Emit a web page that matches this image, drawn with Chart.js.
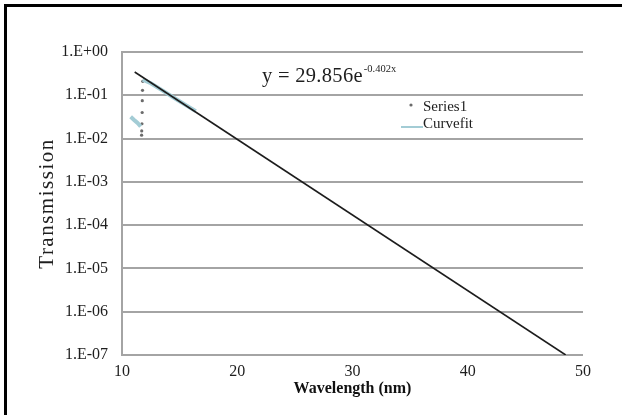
<!DOCTYPE html>
<html>
<head>
<meta charset="utf-8">
<script src="https://cdn.jsdelivr.net/npm/chart.js@4.4.1/dist/chart.umd.min.js"></script>
<style>
    html, body { margin: 0; padding: 0; background: #fff; }
    canvas { display: block; }
</style>
</head>
<body>
<canvas id="chart" width="622" height="415"></canvas>
<script>
// eixos
const xTicks = [10, 20, 30, 40, 50];
const yTickValues = [1, 1e-1, 1e-2, 1e-3, 1e-4, 1e-5, 1e-6, 1e-7];
const yTickLabels = ['1.E+00', '1.E-01', '1.E-02', '1.E-03', '1.E-04', '1.E-05', '1.E-06', '1.E-07'];

// Series1 (pontos medidos)
const series1X = [11.8, 11.78, 11.76, 11.75, 11.73, 11.71, 11.7];
const series1Y = [0.21, 0.13, 0.075, 0.04, 0.022, 0.015, 0.012];

// Curvefit (dois trechos, null separa)
const curveX = [10.75, 11.05, 11.35, 11.62, 11.7, 11.8, 12.5, 13.5, 14.5, 15.5, 16.4];
const curveY = [0.032, 0.027, 0.023, 0.019, null, 0.23, 0.19, 0.13, 0.088, 0.06, 0.043];

// linha de tendência exponencial (preta)
const trendX = [11.1, 48.5];
const trendY = [0.345, 1.0e-7];

const eqText = 'y = 29.856e';
const eqExp = '-0.402x';

const SERIF = '"Liberation Serif", "Times New Roman", serif';
const textColor = '#1e1e1e';
const gridColor = '#a4a4a4';

const toPoints = (xs, ys) => xs.map((x, i) => ({ x: x, y: ys[i] }));

// moldura preta + fundo
const framePlugin = {
    id: 'frame',
    beforeDraw(chart) {
        const ctx = chart.ctx;
        ctx.save();
        ctx.fillStyle = '#fff';
        ctx.fillRect(0, 0, chart.width, chart.height);
        ctx.fillStyle = '#000';
        ctx.fillRect(4, 4, chart.width - 4, 3);
        ctx.fillRect(4, 4, 3, chart.height - 4);
        ctx.restore();
    }
};

// título do eixo Y, equação e legenda
const extrasPlugin = {
    id: 'extras',
    afterDraw(chart) {
        const ctx = chart.ctx;
        const ca = chart.chartArea;
        ctx.save();

        // Transmission (espaçado)
        ctx.save();
        ctx.translate(53, (ca.top + ca.bottom) / 2);
        ctx.rotate(-Math.PI / 2);
        ctx.font = '21px ' + SERIF;
        ctx.letterSpacing = '1.5px';
        ctx.fillStyle = textColor;
        ctx.textAlign = 'center';
        ctx.textBaseline = 'alphabetic';
        ctx.fillText('Transmission', 0, 0);
        ctx.restore();

        // equação
        ctx.fillStyle = textColor;
        ctx.textAlign = 'left';
        ctx.textBaseline = 'alphabetic';
        ctx.font = '20.5px ' + SERIF;
        ctx.letterSpacing = '0.3px';
        const ex = ca.left + 140;
        const ey = ca.top + 30;
        ctx.fillText(eqText, ex, ey);
        const w = ctx.measureText(eqText).width;
        ctx.font = '10.5px ' + SERIF;
        ctx.letterSpacing = '0px';
        ctx.fillText(eqExp, ex + w + 1, ey - 10);

        // legenda
        const s1 = chart.data.datasets[2];
        const cf = chart.data.datasets[1];
        const lx = ca.left + 301;
        ctx.font = '15px ' + SERIF;
        ctx.textBaseline = 'middle';
        ctx.fillStyle = s1.pointBackgroundColor;
        ctx.beginPath();
        ctx.arc(lx - 12, ca.top + 53, 1.6, 0, Math.PI * 2);
        ctx.fill();
        ctx.fillStyle = textColor;
        ctx.fillText(s1.label, lx, ca.top + 55);

        ctx.strokeStyle = cf.borderColor;
        ctx.lineWidth = 2;
        ctx.beginPath();
        ctx.moveTo(lx - 22, ca.top + 75);
        ctx.lineTo(lx, ca.top + 75);
        ctx.stroke();
        ctx.fillText(cf.label, lx, ca.top + 72);

        ctx.restore();
    }
};

const ctx = document.getElementById('chart').getContext('2d');
const chart = new Chart(ctx, {
    type: 'line',
    data: {
        datasets: [
            { label: 'Trend', data: toPoints(trendX, trendY), borderColor: '#1c1c1c', borderWidth: 1.6, pointRadius: 0, order: 0 },
            { label: 'Curvefit', data: toPoints(curveX, curveY), borderColor: '#a3ccd5', borderWidth: 4, pointRadius: 0, spanGaps: false, order: 1 },
            { label: 'Series1', data: toPoints(series1X, series1Y), showLine: false, pointRadius: 1.6, pointBackgroundColor: '#6b6b6b', pointBorderWidth: 0, order: 2 }
        ]
    },
    options: {
        responsive: false,
        animation: false,
        devicePixelRatio: 1,
        layout: { padding: { top: 52, right: 39, left: 0, bottom: 0 } },
        plugins: { legend: { display: false }, tooltip: { enabled: false } },
        scales: {
            x: {
                type: 'linear',
                min: 10,
                max: 50,
                afterBuildTicks: (s) => { s.ticks = xTicks.map((v) => ({ value: v })); },
                afterFit: (s) => { s.height = 60; },
                ticks: { font: { family: SERIF, size: 16 }, color: textColor, padding: 7, maxRotation: 0 },
                grid: { display: false, drawTicks: false },
                border: { display: false },
                title: {
                    display: true,
                    text: 'Wavelength (nm)',
                    font: { family: SERIF, size: 16, weight: 'bold' },
                    color: '#111',
                    padding: { top: 0, bottom: 17 }
                }
            },
            y: {
                type: 'logarithmic',
                min: 1e-7,
                max: 1,
                afterBuildTicks: (s) => { s.ticks = yTickValues.map((v) => ({ value: v })); },
                afterFit: (s) => { s.width = 122; },
                ticks: {
                    font: { family: SERIF, size: 16 },
                    color: textColor,
                    padding: 14,
                    callback: (v, i) => yTickLabels[i]
                },
                grid: { color: gridColor, lineWidth: 2, drawTicks: false },
                border: { display: true, color: gridColor, width: 2 }
            }
        }
    },
    plugins: [framePlugin, extrasPlugin]
});
</script>
</body>
</html>
